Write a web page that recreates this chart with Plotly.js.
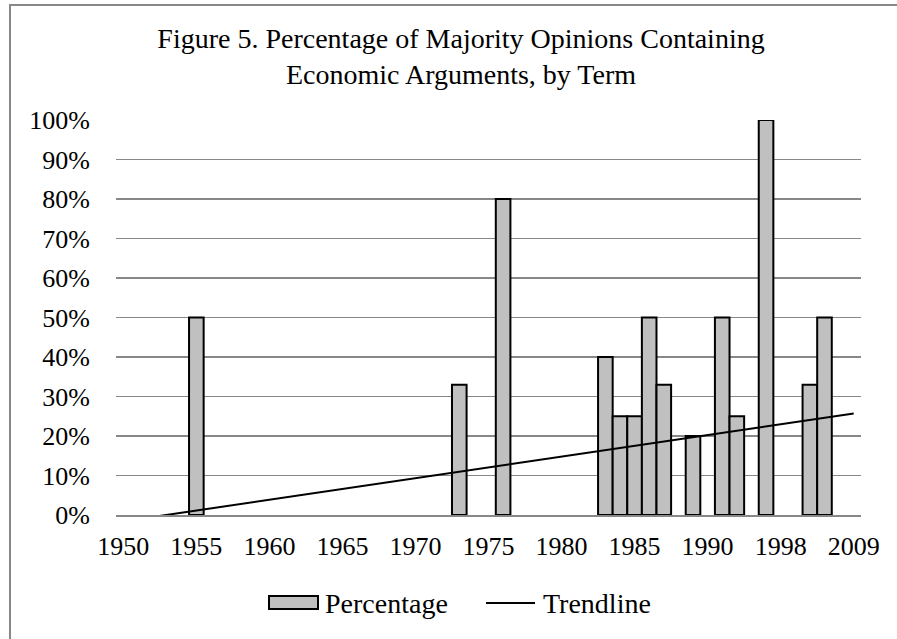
<!DOCTYPE html>
<html>
<head>
<meta charset="utf-8">
<script src="https://cdn.plot.ly/plotly-3.0.1.min.js"></script>
<style>html,body{margin:0;padding:0;background:#fff;}#chart{width:897px;height:639px;}</style>
</head>
<body>
<div id="chart"></div>
<script>
// Category axis: 51 term slots, every 5th labelled
const tickLabels = ["1950","1955","1960","1965","1970","1975","1980","1985","1990","1998","2009"];
const tickSlots = [0,5,10,15,20,25,30,35,40,45,50];
// Bars: slot index on the category axis and percentage value
const barSlots = [5, 23, 26, 33, 34, 35, 36, 37, 39, 41, 42, 44, 47, 48];
const barValues = [50, 33, 80, 40, 25, 25, 50, 33, 20, 50, 25, 100, 33, 50];
// Trendline end points (slot, percentage)
const trendSlots = [0, 50];
const trendValues = [-1.6, 25.7];
const yTicks = [0,10,20,30,40,50,60,70,80,90,100];
const yTickText = ["0%","10%","20%","30%","40%","50%","60%","70%","80%","90%","100%"];
const seriesNames = ["Percentage", "Trendline"];

const FONT = "Liberation Serif, Times New Roman, serif";
const L = 116, R = 36, T = 120, B = 124;
const W = 897, H = 639;
const pw = W - L - R, ph = H - T - B;
const px = x => (x - L) / pw;
const py = y => (H - B - y) / ph;

const traces = [
  {
    type: "bar", name: seriesNames[0], x: barSlots, y: barValues, width: 1,
    marker: {color: "#c0c0c0", line: {color: "#000", width: 2}},
    hoverinfo: "skip", showlegend: false
  },
  {
    type: "scatter", mode: "lines", name: seriesNames[1], x: trendSlots, y: trendValues,
    line: {color: "#000", width: 2}, hoverinfo: "skip", showlegend: false
  }
];

const legendY = 603;
const layout = {
  width: W, height: H,
  margin: {l: L, r: R, t: T, b: B, pad: 0},
  paper_bgcolor: "#fff", plot_bgcolor: "#fff",
  font: {family: FONT, size: 26, color: "#000"},
  title: {
    text: "Figure 5. Percentage of Majority Opinions Containing<br>Economic Arguments, by Term",
    font: {family: FONT, size: 28, color: "#000"},
    xref: "container", yref: "container", x: 461/897, xanchor: "center",
    y: 1 - 48/639, yanchor: "top"
  },
  bargap: 0,
  showlegend: false,
  xaxis: {
    range: [-0.5, 50.5], tickmode: "array", tickvals: tickSlots, ticktext: tickLabels,
    showgrid: false, zeroline: false, showline: true, linecolor: "#888", linewidth: 2,
    ticks: "", ticklabelstandoff: 7, tickfont: {family: FONT, size: 26, color: "#000"},
    fixedrange: true
  },
  yaxis: {
    range: [0, 100], tickmode: "array", tickvals: yTicks, ticktext: yTickText,
    showgrid: true, gridcolor: "#888", gridwidth: 1.5, zeroline: false, showline: false,
    ticks: "", ticklabelstandoff: 25, tickfont: {family: FONT, size: 26, color: "#000"},
    fixedrange: true
  },
  shapes: [
    {type: "rect", xref: "paper", yref: "paper", x0: px(10), x1: px(905), y0: py(5), y1: py(650),
     line: {color: "#888", width: 2}, fillcolor: "rgba(0,0,0,0)", layer: "below"},
    // legend swatches
    {type: "rect", xref: "paper", yref: "paper", x0: px(269), x1: px(318), y0: py(legendY - 7), y1: py(legendY + 6),
     line: {color: "#000", width: 2}, fillcolor: "#c0c0c0"},
    {type: "line", xref: "paper", yref: "paper", x0: px(486), x1: px(535), y0: py(legendY), y1: py(legendY),
     line: {color: "#000", width: 2}}
  ],
  annotations: [
    {text: seriesNames[0], xref: "paper", yref: "paper", x: px(323), y: py(legendY), xanchor: "left", yanchor: "middle",
     showarrow: false, font: {family: FONT, size: 28, color: "#000"}},
    {text: seriesNames[1], xref: "paper", yref: "paper", x: px(541), y: py(legendY), xanchor: "left", yanchor: "middle",
     showarrow: false, font: {family: FONT, size: 28, color: "#000"}}
  ]
};

Plotly.newPlot("chart", traces, layout, {staticPlot: true, displayModeBar: false});
</script>
</body>
</html>
